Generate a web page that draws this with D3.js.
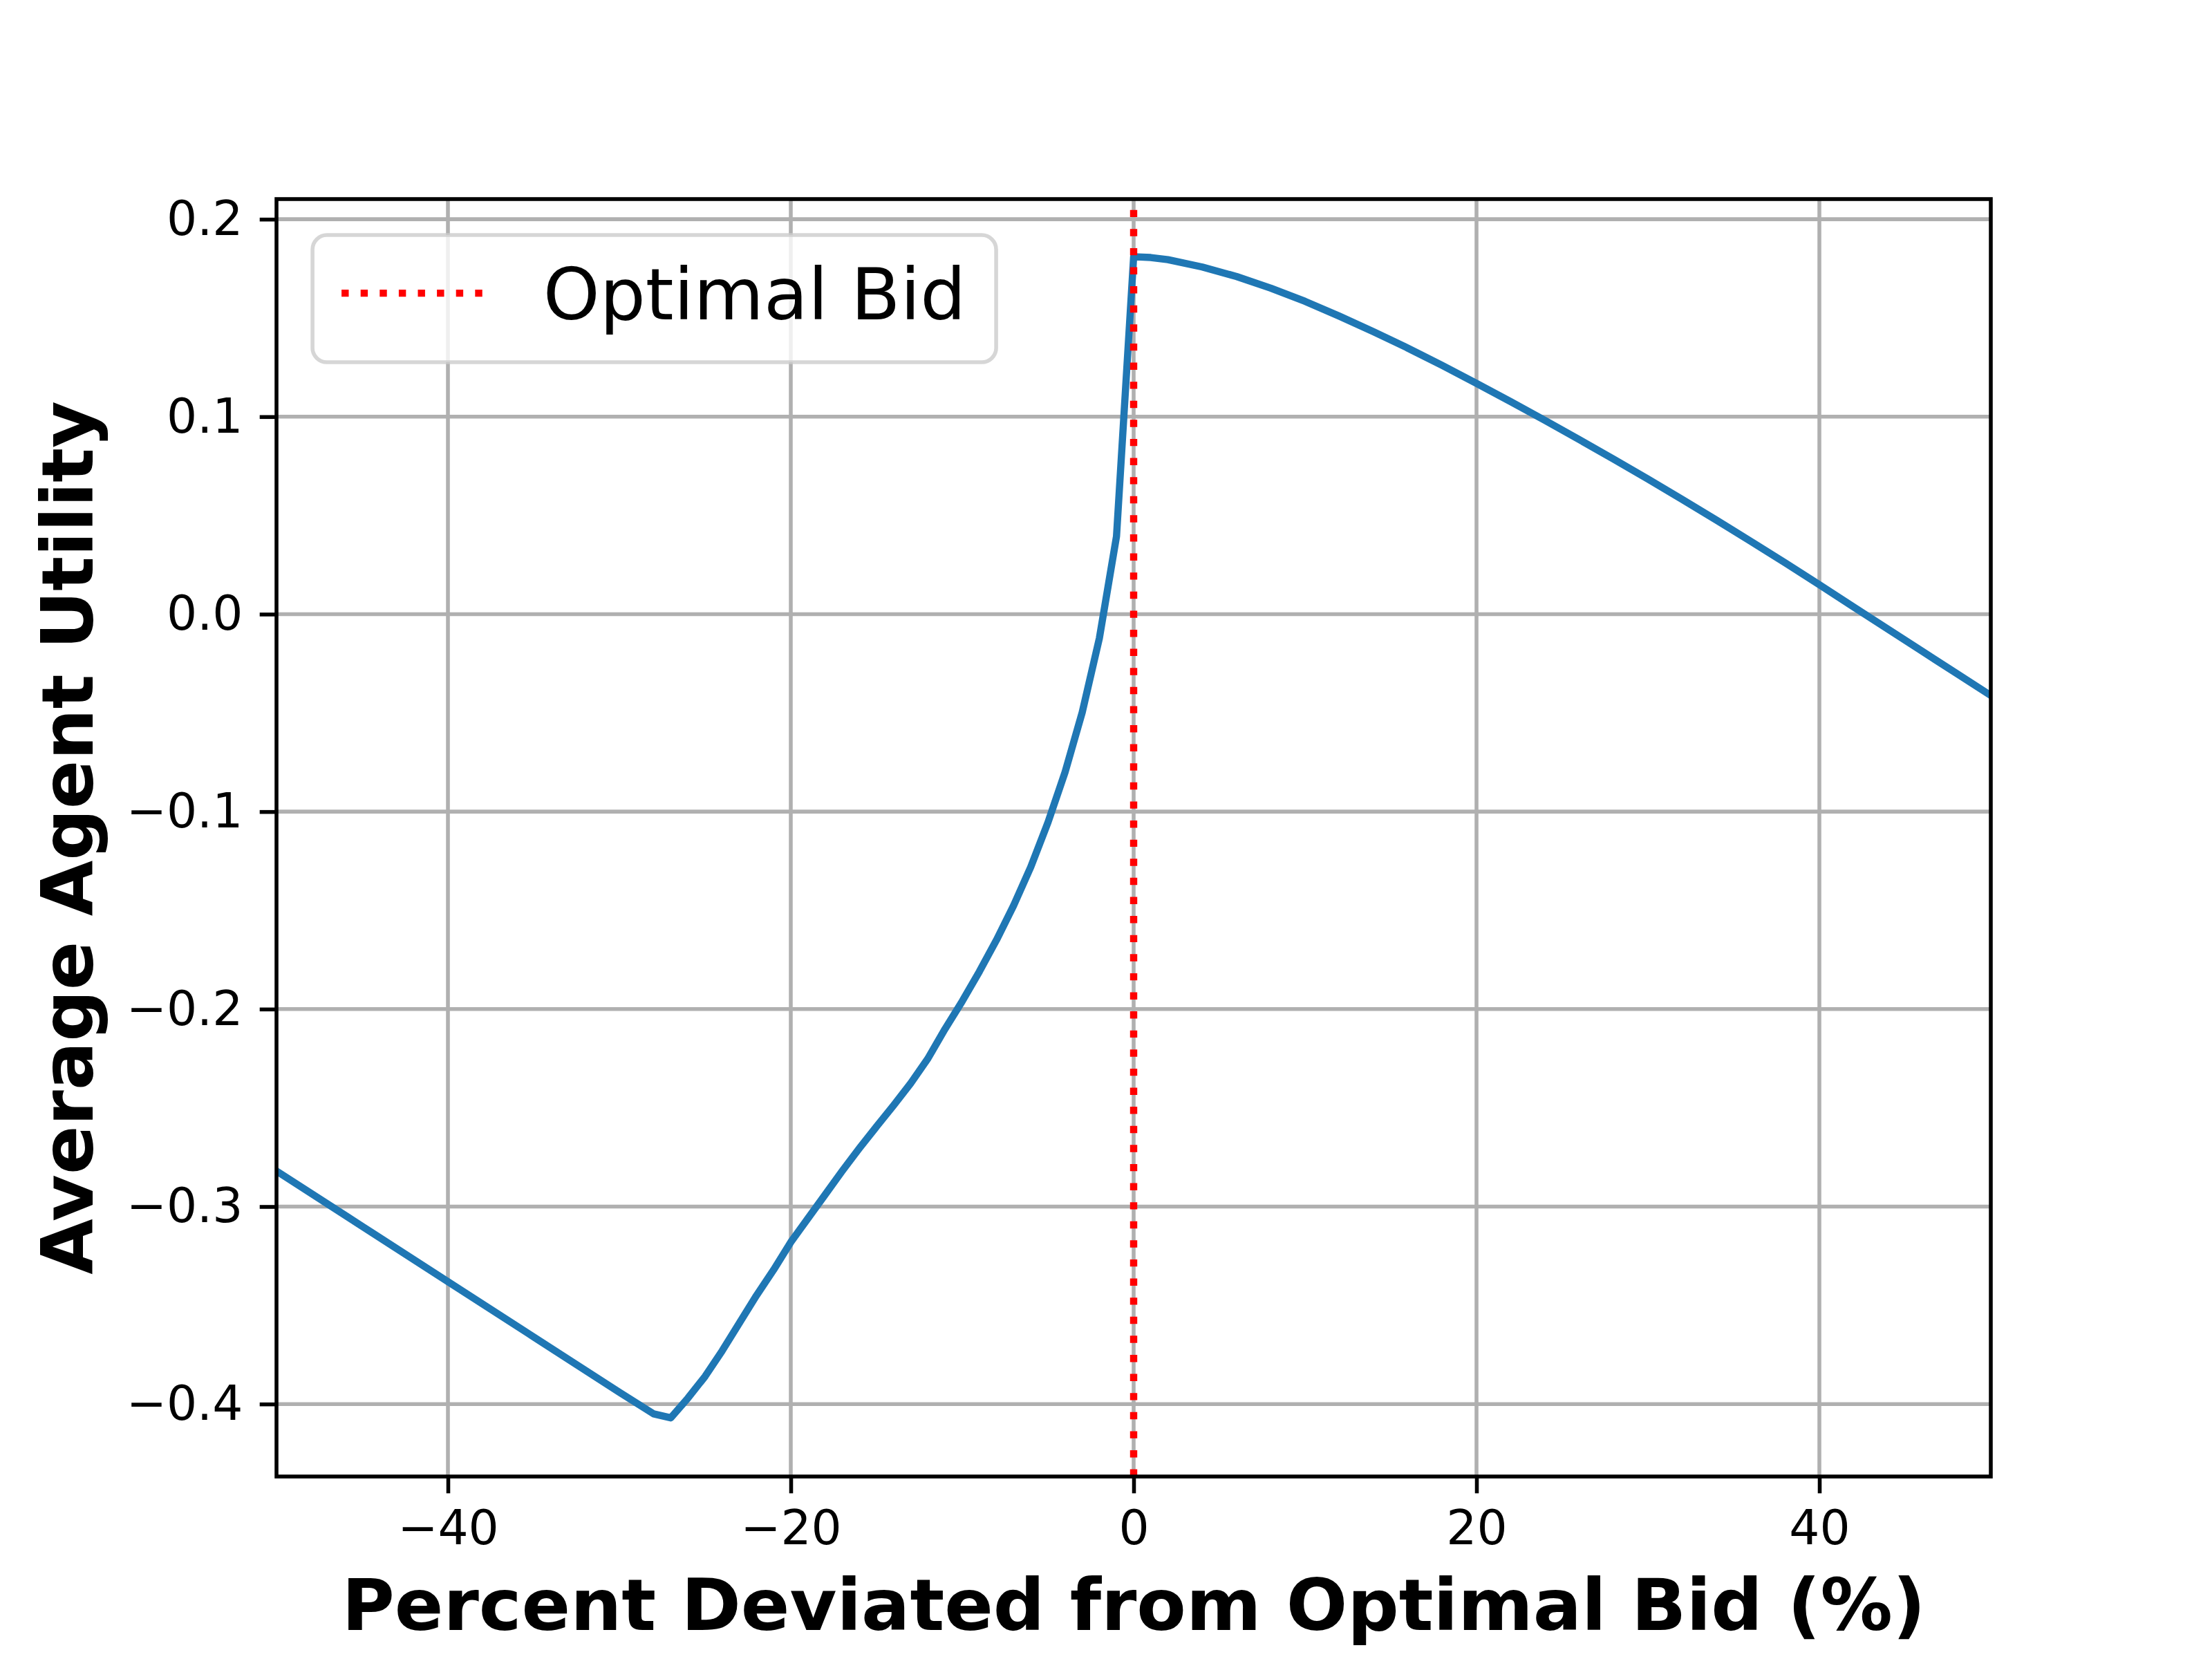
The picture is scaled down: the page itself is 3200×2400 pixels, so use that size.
<!DOCTYPE html>
<html>
<head>
<meta charset="utf-8">
<title>Average Agent Utility</title>
<script src="https://cdn.jsdelivr.net/npm/d3@7"></script>
<style>
  body { margin: 0; background: #ffffff; }
  svg { display: block; }
  text { font-family: "DejaVu Sans", sans-serif; fill: #000000; }
</style>
</head>
<body>
<script>

// deviation from the optimal bid (%) and the average utility
var percentDev = [-50, -45, -40, -35, -30, -28, -27, -26, -25, -24, -23, -22, -21, -20,
                  -19, -18, -17, -16, -15, -14, -13, -12, -11, -10, -9, -8, -7, -6,
                  -5, -4, -3, -2, -1, 0, 1, 2, 4, 6, 8, 10, 12, 14, 16, 18, 20,
                  22, 24, 26, 28, 30, 32, 34, 36, 38, 40, 42, 44, 46, 48, 50];
var avgUtility = [-0.282, -0.310, -0.338, -0.366, -0.394, -0.405, -0.407, -0.397, -0.386, -0.373,
                  -0.359, -0.345, -0.332, -0.318, -0.306, -0.294, -0.282, -0.2705, -0.2595, -0.2487,
                  -0.2375, -0.225, -0.210, -0.196, -0.181, -0.165, -0.1475, -0.128, -0.1055, -0.080,
                  -0.0497, -0.0122, 0.0394, 0.181, 0.1806, 0.1795, 0.1758, 0.1710, 0.1651, 0.1584,
                  0.1509, 0.1430, 0.1347, 0.1260, 0.1169, 0.1076, 0.0981, 0.0884, 0.0785, 0.0684,
                  0.0581, 0.0476, 0.0369, 0.0260, 0.0149, 0.0036, -0.0076, -0.0188, -0.0300, -0.0412];

// where the optimal bid sits on the x axis
var optimalBid = 0;

// tick values
var xTicks = [-40, -20, 0, 20, 40];
var yTicks = [-0.4, -0.3, -0.2, -0.1, 0.0, 0.1, 0.2];

// axis range (matplotlib style 5% padding)
var xDomain = [-50, 50];
var yDomain = [-0.4367, 0.2102];

window.onload = function() {
	drawChart();
};

function drawChart() {

	// figure size and axes box
	var width = 3200, height = 2400;
	var margin = {top: 288, right: 320, bottom: 264, left: 400};
	var plotW = width - margin.left - margin.right;
	var plotH = height - margin.top - margin.bottom;

	// 1pt at 500 dpi
	var pt = 500 / 72;

	var svg = d3.select("body")
				.append("svg")
				.attr("width", width)
				.attr("height", height);

	svg.append("rect")
	   .attr("width", width)
	   .attr("height", height)
	   .attr("fill", "#ffffff");

	var g = svg.append("g")
			   .attr("transform", "translate(" + margin.left + "," + margin.top + ")");

	// scales
	var xScale = d3.scaleLinear().domain(xDomain).range([0, plotW]);
	var yScale = d3.scaleLinear().domain(yDomain).range([plotH, 0]);

	// clip the data to the axes box
	g.append("clipPath")
	 .attr("id", "plotClip")
	 .append("rect")
	 .attr("width", plotW)
	 .attr("height", plotH);

	// grid lines
	g.append("g")
	 .selectAll("line")
	 .data(xTicks)
	 .enter().append("line")
	 .attr("x1", function(d) { return xScale(d); })
	 .attr("x2", function(d) { return xScale(d); })
	 .attr("y1", 0)
	 .attr("y2", plotH)
	 .attr("stroke", "#b0b0b0")
	 .attr("stroke-width", 0.8 * pt);

	g.append("g")
	 .selectAll("line")
	 .data(yTicks)
	 .enter().append("line")
	 .attr("x1", 0)
	 .attr("x2", plotW)
	 .attr("y1", function(d) { return yScale(d); })
	 .attr("y2", function(d) { return yScale(d); })
	 .attr("stroke", "#b0b0b0")
	 .attr("stroke-width", 0.8 * pt);

	// the utility curve
	var points = percentDev.map(function(d, i) { return [d, avgUtility[i]]; });
	var line = d3.line()
				 .x(function(d) { return xScale(d[0]); })
				 .y(function(d) { return yScale(d[1]); });

	g.append("path")
	 .datum(points)
	 .attr("clip-path", "url(#plotClip)")
	 .attr("d", line)
	 .attr("fill", "none")
	 .attr("stroke", "#1f77b4")
	 .attr("stroke-width", 1.5 * pt)
	 .attr("stroke-linejoin", "round")
	 .attr("stroke-linecap", "square");

	// optimal bid, dotted red vertical line (drawn bottom to top like axvline)
	g.append("line")
	 .attr("x1", xScale(optimalBid))
	 .attr("x2", xScale(optimalBid))
	 .attr("y1", plotH)
	 .attr("y2", 0)
	 .attr("stroke", "#ff0000")
	 .attr("stroke-width", 1.5 * pt)
	 .attr("stroke-dasharray", (1.5 * pt) + "," + (2.475 * pt));

	// axes
	var tickFont = 10 * pt;
	var xAxis = g.append("g")
				 .attr("transform", "translate(0," + plotH + ")")
				 .call(d3.axisBottom(xScale)
						 .tickValues(xTicks)
						 .tickFormat(d3.format("d"))
						 .tickSize(3.5 * pt)
						 .tickPadding(3.5 * pt));

	var yAxis = g.append("g")
				 .call(d3.axisLeft(yScale)
						 .tickValues(yTicks)
						 .tickFormat(d3.format(".1f"))
						 .tickSize(3.5 * pt)
						 .tickPadding(3.5 * pt));

	[xAxis, yAxis].forEach(function(ax) {
		ax.select(".domain").remove();
		ax.selectAll(".tick line")
		  .attr("stroke", "#000000")
		  .attr("stroke-width", 0.8 * pt);
		ax.selectAll(".tick text")
		  .attr("fill", "#000000")
		  .style("font-family", "'DejaVu Sans', sans-serif")
		  .style("font-size", tickFont + "px");
	});

	// axes frame
	g.append("rect")
	 .attr("width", plotW)
	 .attr("height", plotH)
	 .attr("fill", "none")
	 .attr("stroke", "#000000")
	 .attr("stroke-width", 0.8 * pt);

	// axis labels
	var labelFont = 15 * pt;
	svg.append("text")
	   .attr("x", margin.left + plotW / 2)
	   .attr("y", 2358)
	   .attr("text-anchor", "middle")
	   .style("font-size", labelFont + "px")
	   .style("font-weight", "bold")
	   .text("Percent Deviated from Optimal Bid (%)");

	svg.append("text")
	   .attr("transform", "translate(134," + (margin.top + plotH / 2) + ") rotate(-90)")
	   .attr("text-anchor", "middle")
	   .style("font-size", labelFont + "px")
	   .style("font-weight", "bold")
	   .text("Average Agent Utility");

	// legend box, upper left
	var legend = g.append("g")
				  .attr("transform", "translate(" + (0.5 * labelFont) + "," + (0.5 * labelFont) + ")");

	legend.append("rect")
		  .attr("width", 989)
		  .attr("height", 184)
		  .attr("rx", 0.2 * labelFont)
		  .attr("ry", 0.2 * labelFont)
		  .attr("fill", "#ffffff")
		  .attr("fill-opacity", 0.8)
		  .attr("stroke", "#cccccc")
		  .attr("stroke-opacity", 0.8)
		  .attr("stroke-width", 0.8 * pt);

	legend.append("line")
		  .attr("x1", 42)
		  .attr("x2", 42 + 2 * labelFont)
		  .attr("y1", 84)
		  .attr("y2", 84)
		  .attr("stroke", "#ff0000")
		  .attr("stroke-width", 1.5 * pt)
		  .attr("stroke-dasharray", (1.5 * pt) + "," + (2.475 * pt));

	legend.append("text")
		  .attr("x", 42 + 2.8 * labelFont)
		  .attr("y", 122)
		  .style("font-size", labelFont + "px")
		  .text("Optimal Bid");
}
</script>
</body>
</html>
